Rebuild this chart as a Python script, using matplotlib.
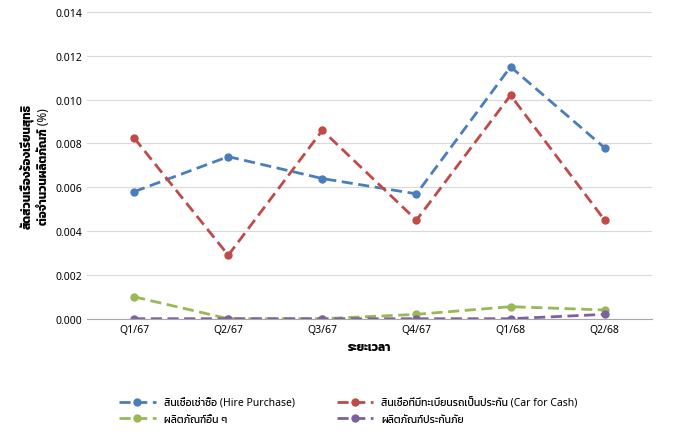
import numpy as np
import matplotlib
matplotlib.use("Agg")
import matplotlib.pyplot as plt
from matplotlib import font_manager
from matplotlib.ft2font import FT2Font

# look for any installed font that has Thai glyphs
thai_font = None
for f in font_manager.findSystemFonts():
    try:
        if 0x0E2A in FT2Font(f).get_charmap():
            thai_font = font_manager.FontProperties(fname=f).get_name()
            font_manager.fontManager.addfont(f)
            break
    except Exception:
        pass
fams = ["Noto Sans", "DejaVu Sans"]
if thai_font:
    fams.append(thai_font)
plt.rcParams["font.family"] = fams

quarters = ["Q1/67", "Q2/67", "Q3/67", "Q4/67", "Q1/68", "Q2/68"]
hire = [0.0058, 0.0074, 0.0064, 0.0057, 0.0115, 0.0078]
car_cash = [0.00825, 0.0029, 0.0086, 0.0045, 0.0102, 0.0045]
other = [0.0010, 0.0, 0.0, 0.0002, 0.00055, 0.0004]
insurance = [0.0, 0.0, 0.0, 0.0, 0.0, 0.0002]

series = [
    (hire, "#4a7ebb", "สินเชื่อเช่าซื้อ (Hire Purchase)"),
    (car_cash, "#be4b48", "สินเชื่อที่มีทะเบียนรถเป็นประกัน (Car for Cash)"),
    (other, "#98b954", "ผลิตภัณฑ์อื่น ๆ"),
    (insurance, "#7d60a0", "ผลิตภัณฑ์ประกันภัย"),
]

fig, ax = plt.subplots(figsize=(6.97, 4.35), dpi=100)
fig.subplots_adjust(left=0.125, right=0.935, top=0.97, bottom=0.265)
x = np.arange(len(quarters))
lines = []
for vals, col, lab in series:
    ln, = ax.plot(x, vals, color=col, linestyle="--", linewidth=2, marker="o",
                  markersize=5, label=lab, dashes=(4, 2))
    lines.append(ln)

ax.set_xlim(-0.5, len(quarters) - 0.5)
ax.set_ylim(0, 0.014)
ax.set_yticks(np.arange(0, 0.0141, 0.002))
ax.yaxis.set_major_formatter(matplotlib.ticker.FormatStrFormatter("%.3f"))
ax.set_xticks(x)
ax.set_xticklabels(quarters)
ax.tick_params(labelsize=7.5, length=0)
ax.grid(axis="y", color="#d9d9d9", linewidth=0.8)
for s in ["top", "right", "left"]:
    ax.spines[s].set_visible(False)
ax.spines["bottom"].set_color("#a6a6a6")
ax.set_axisbelow(True)
ax.set_xlabel("ระยะเวลา", fontsize=8.5, fontweight="bold")
ax.set_ylabel("สัดส่วนเรื่องร้องเรียนสุทธิ\nต่อจำนวนผลิตภัณฑ์ (%)", fontsize=8.5, fontweight="bold")
order = [0, 2, 1, 3]
fig.legend([lines[i] for i in order], [series[i][2] for i in order],
           loc="lower center", ncol=2, frameon=False, fontsize=7.5,
           bbox_to_anchor=(0.5, 0.0), columnspacing=4, handlelength=3.5)
fig.savefig("out.png")
